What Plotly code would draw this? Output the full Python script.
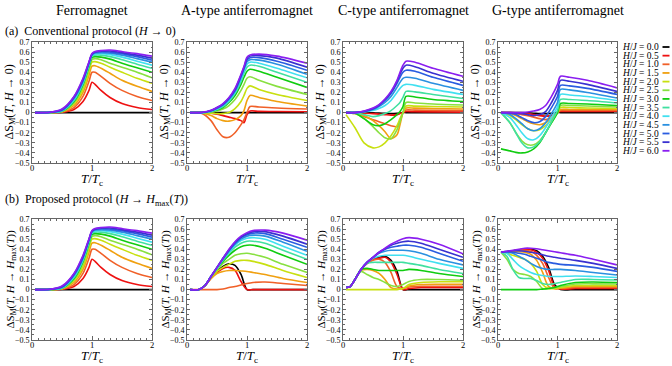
import plotly.graph_objects as go

W, H = 672, 366

# ---- data ----
h_values = [0.0, 0.5, 1.0, 1.5, 2.0, 2.5, 3.0, 3.5, 4.0, 4.5, 5.0, 5.5, 6.0]
line_colors = ['#000000', '#ee1111', '#f06028', '#f0a010', '#c8e010', '#88e040',
               '#10cc10', '#40e0a0', '#40e0f0', '#2a90e0', '#2a5ce0', '#3a30d0', '#8a1ef0']

col_titles = ['Ferromagnet', 'A-type antiferromagnet', 'C-type antiferromagnet', 'G-type antiferromagnet']
row_labels = ['(a)  Conventional protocol (<i>H</i> → 0)',
              '(b)  Proposed protocol (<i>H</i> → <i>H</i><sub>max</sub>(<i>T</i>))']
y_titles = ['ΔS<sub>M</sub>(<i>T</i>, <i>H</i> → 0)',
            'ΔS<sub>M</sub>(<i>T</i>, <i>H</i> → <i>H</i><sub>max</sub>(<i>T</i>))']
x_title = '<i>T</i>/<i>T</i><sub>c</sub>'

# ferromagnet (both protocols look the same)
t_fm = [0.05, 0.3, 0.5, 0.7, 0.85, 0.95, 1.0, 1.05, 1.15, 1.3, 1.5, 1.75, 2.0]
fm_conv = [
    [0, 0, 0, 0, 0, 0, 0, 0, 0, 0, 0, 0, 0],
    [0, 0, 0.003, 0.03, 0.11, 0.22, 0.30, 0.28, 0.22, 0.15, 0.09, 0.05, 0.03],
    [0, 0, 0.005, 0.05, 0.16, 0.31, 0.40, 0.40, 0.36, 0.29, 0.22, 0.16, 0.12],
    [0, 0, 0.008, 0.07, 0.20, 0.37, 0.46, 0.465, 0.44, 0.39, 0.32, 0.26, 0.21],
    [0, 0, 0.01, 0.09, 0.23, 0.41, 0.50, 0.505, 0.49, 0.45, 0.40, 0.34, 0.29],
    [0, 0.001, 0.012, 0.10, 0.26, 0.44, 0.525, 0.535, 0.525, 0.49, 0.45, 0.40, 0.345],
    [0, 0.001, 0.014, 0.11, 0.28, 0.46, 0.545, 0.555, 0.55, 0.53, 0.49, 0.445, 0.40],
    [0, 0.001, 0.016, 0.12, 0.29, 0.47, 0.56, 0.57, 0.57, 0.555, 0.525, 0.48, 0.44],
    [0, 0.002, 0.018, 0.13, 0.30, 0.48, 0.565, 0.58, 0.585, 0.575, 0.55, 0.51, 0.47],
    [0, 0.002, 0.02, 0.14, 0.31, 0.49, 0.57, 0.59, 0.595, 0.59, 0.57, 0.535, 0.50],
    [0, 0.002, 0.025, 0.15, 0.32, 0.495, 0.575, 0.595, 0.605, 0.60, 0.585, 0.555, 0.52],
    [0, 0.003, 0.03, 0.155, 0.33, 0.50, 0.58, 0.60, 0.61, 0.61, 0.595, 0.57, 0.54],
    [0, 0.003, 0.035, 0.16, 0.34, 0.505, 0.585, 0.605, 0.615, 0.62, 0.605, 0.585, 0.56],
]
fm_prop = fm_conv

t_a_conv = [0.05, 0.25, 0.4, 0.5, 0.6, 0.7, 0.8, 0.9, 0.95, 1.0, 1.05, 1.2, 1.5, 2.0]
a_conv = [
    [0, 0, 0, 0, 0, 0, 0, 0, 0, 0, 0, 0, 0, 0],
    [0, 0, -0.005, -0.015, -0.03, -0.045, -0.06, -0.08, -0.1, -0.02, 0.015, 0.012, 0.01, 0.008],
    [0, -0.01, -0.08, -0.17, -0.24, -0.245, -0.2, -0.12, -0.07, 0.0, 0.06, 0.055, 0.045, 0.035],
    [0, -0.003, -0.03, -0.06, -0.08, -0.085, -0.07, -0.03, 0.02, 0.12, 0.17, 0.15, 0.11, 0.065],
    [0, 0, -0.005, -0.01, -0.01, 0.0, 0.04, 0.11, 0.17, 0.24, 0.265, 0.23, 0.18, 0.12],
    [0, 0, 0.005, 0.015, 0.035, 0.07, 0.13, 0.22, 0.28, 0.34, 0.355, 0.32, 0.26, 0.18],
    [0, 0, 0.01, 0.025, 0.05, 0.1, 0.17, 0.28, 0.35, 0.41, 0.43, 0.41, 0.35, 0.25],
    [0, 0, 0.012, 0.03, 0.06, 0.11, 0.19, 0.31, 0.39, 0.45, 0.47, 0.46, 0.40, 0.30],
    [0, 0, 0.014, 0.035, 0.07, 0.12, 0.2, 0.33, 0.41, 0.48, 0.50, 0.49, 0.44, 0.345],
    [0, 0.001, 0.016, 0.04, 0.075, 0.13, 0.21, 0.35, 0.43, 0.505, 0.525, 0.52, 0.48, 0.38],
    [0, 0.001, 0.018, 0.045, 0.08, 0.14, 0.22, 0.36, 0.44, 0.52, 0.545, 0.545, 0.51, 0.42],
    [0, 0.001, 0.02, 0.05, 0.085, 0.145, 0.23, 0.37, 0.45, 0.535, 0.56, 0.565, 0.54, 0.45],
    [0, 0.002, 0.022, 0.05, 0.09, 0.15, 0.24, 0.38, 0.46, 0.55, 0.57, 0.58, 0.56, 0.49],
]

t_c_conv = [0.05, 0.2, 0.35, 0.5, 0.6, 0.7, 0.8, 0.9, 0.95, 1.0, 1.05, 1.2, 1.5, 2.0]
c_conv = [
    [0, 0, 0, -0.003, -0.005, -0.008, -0.01, -0.008, -0.005, 0, 0, 0, 0, 0],
    [0, 0, -0.005, -0.01, -0.015, -0.02, -0.025, -0.02, -0.01, 0.0, 0.01, 0.008, 0.007, 0.005],
    [0, -0.01, -0.04, -0.07, -0.09, -0.11, -0.13, -0.14, -0.08, 0.0, 0.025, 0.024, 0.022, 0.02],
    [0, -0.005, -0.03, -0.08, -0.13, -0.19, -0.26, -0.22, -0.12, 0.0, 0.045, 0.044, 0.04, 0.035],
    [-0.02, -0.15, -0.3, -0.35, -0.34, -0.3, -0.23, -0.13, -0.06, 0.0, 0.065, 0.064, 0.06, 0.055],
    [0, -0.01, -0.06, -0.14, -0.2, -0.25, -0.26, -0.17, -0.09, 0.0, 0.1, 0.095, 0.085, 0.075],
    [0, -0.005, -0.06, -0.12, -0.13, -0.11, -0.07, -0.02, 0.01, 0.06, 0.16, 0.155, 0.13, 0.11],
    [0, 0, -0.02, -0.04, -0.03, -0.01, 0.02, 0.07, 0.1, 0.15, 0.21, 0.205, 0.18, 0.14],
    [0, 0, 0.005, 0.02, 0.04, 0.07, 0.12, 0.2, 0.24, 0.27, 0.28, 0.27, 0.23, 0.18],
    [0, 0, 0.008, 0.03, 0.06, 0.1, 0.16, 0.25, 0.3, 0.34, 0.35, 0.34, 0.29, 0.22],
    [0, 0, 0.01, 0.035, 0.07, 0.12, 0.19, 0.29, 0.35, 0.40, 0.42, 0.41, 0.35, 0.27],
    [0, 0, 0.012, 0.04, 0.075, 0.13, 0.2, 0.31, 0.38, 0.44, 0.47, 0.455, 0.39, 0.31],
    [0, 0, 0.015, 0.045, 0.08, 0.135, 0.21, 0.32, 0.40, 0.47, 0.51, 0.50, 0.44, 0.36],
]

t_g_conv = [0.05, 0.2, 0.3, 0.4, 0.5, 0.6, 0.7, 0.8, 0.9, 1.0, 1.05, 1.2, 1.5, 2.0]
g_conv = [
    [0, 0, 0, 0, -0.003, -0.006, -0.01, -0.01, -0.008, 0, 0, 0, 0, 0],
    [0, 0, -0.002, -0.005, -0.01, -0.02, -0.03, -0.035, -0.03, 0.0, 0.01, 0.01, 0.01, 0.01],
    [0, -0.005, -0.01, -0.02, -0.03, -0.045, -0.06, -0.07, -0.05, 0.0, 0.02, 0.02, 0.02, 0.02],
    [0, -0.01, -0.03, -0.06, -0.09, -0.11, -0.12, -0.1, -0.06, 0.0, 0.03, 0.03, 0.03, 0.03],
    [0, -0.03, -0.07, -0.12, -0.16, -0.18, -0.17, -0.13, -0.07, 0.0, 0.05, 0.05, 0.045, 0.04],
    [0, -0.1, -0.2, -0.28, -0.32, -0.32, -0.28, -0.2, -0.1, 0.0, 0.07, 0.07, 0.065, 0.055],
    [-0.36, -0.38, -0.395, -0.40, -0.39, -0.36, -0.3, -0.2, -0.1, 0.0, 0.09, 0.09, 0.085, 0.07],
    [0, -0.1, -0.2, -0.3, -0.35, -0.34, -0.29, -0.2, -0.09, 0.02, 0.13, 0.13, 0.12, 0.095],
    [0, -0.05, -0.12, -0.2, -0.26, -0.27, -0.23, -0.15, -0.05, 0.06, 0.18, 0.175, 0.16, 0.12],
    [0, -0.02, -0.06, -0.11, -0.16, -0.18, -0.16, -0.1, -0.01, 0.1, 0.23, 0.225, 0.2, 0.145],
    [0, -0.005, -0.02, -0.05, -0.08, -0.1, -0.09, -0.04, 0.05, 0.16, 0.27, 0.265, 0.24, 0.18],
    [0, 0, -0.005, -0.01, -0.02, -0.03, -0.02, 0.01, 0.1, 0.22, 0.32, 0.31, 0.28, 0.21],
    [0, 0, 0, 0, 0.005, 0.015, 0.03, 0.07, 0.16, 0.28, 0.36, 0.35, 0.32, 0.245],
]

t_a_prop = [0.05, 0.2, 0.3, 0.4, 0.5, 0.6, 0.7, 0.8, 0.9, 1.0, 1.1, 1.3, 1.6, 2.0]
a_prop = [
    [0, 0, 0.04, 0.12, 0.18, 0.23, 0.255, 0.24, 0.15, 0.0, 0, 0, 0, 0],
    [0, 0, 0.04, 0.11, 0.17, 0.21, 0.22, 0.19, 0.08, 0.0, 0.0, 0.0, 0.0, 0.0],
    [0, 0, 0, 0, 0, 0.005, 0.02, 0.03, 0.045, 0.06, 0.07, 0.075, 0.06, 0.04],
    [0, 0, 0.04, 0.11, 0.16, 0.18, 0.19, 0.19, 0.185, 0.18, 0.17, 0.15, 0.11, 0.07],
    [0, 0, 0.04, 0.12, 0.18, 0.22, 0.25, 0.28, 0.29, 0.29, 0.28, 0.25, 0.19, 0.12],
    [0, 0, 0.04, 0.13, 0.2, 0.26, 0.3, 0.34, 0.355, 0.36, 0.35, 0.32, 0.25, 0.17],
    [0, 0, 0.04, 0.13, 0.21, 0.28, 0.34, 0.39, 0.425, 0.44, 0.44, 0.41, 0.34, 0.25],
    [0, 0, 0.04, 0.13, 0.21, 0.29, 0.36, 0.42, 0.46, 0.48, 0.48, 0.46, 0.39, 0.30],
    [0, 0, 0.04, 0.13, 0.21, 0.3, 0.37, 0.44, 0.485, 0.51, 0.515, 0.5, 0.43, 0.34],
    [0, 0, 0.04, 0.13, 0.22, 0.3, 0.38, 0.45, 0.5, 0.53, 0.54, 0.53, 0.47, 0.38],
    [0, 0, 0.04, 0.13, 0.22, 0.31, 0.39, 0.46, 0.515, 0.545, 0.56, 0.555, 0.5, 0.42],
    [0, 0, 0.04, 0.13, 0.22, 0.31, 0.395, 0.47, 0.52, 0.555, 0.575, 0.575, 0.53, 0.45],
    [0, 0, 0.04, 0.13, 0.22, 0.31, 0.4, 0.475, 0.53, 0.565, 0.585, 0.59, 0.56, 0.49],
]

t_c_prop = [0.05, 0.12, 0.2, 0.3, 0.4, 0.5, 0.6, 0.7, 0.8, 0.9, 1.0, 1.1, 1.3, 1.6, 2.0]
c_prop = [
    [0.02, 0.03, 0.1, 0.2, 0.26, 0.3, 0.32, 0.33, 0.29, 0.18, 0.0, 0, 0, 0, 0],
    [0.02, 0.03, 0.1, 0.2, 0.26, 0.3, 0.31, 0.32, 0.27, 0.15, 0.0, 0.01, 0.02, 0.02, 0.02],
    [0.02, 0.03, 0.1, 0.2, 0.26, 0.29, 0.30, 0.27, 0.17, 0.03, 0.01, 0.025, 0.033, 0.033, 0.033],
    [0.02, 0.03, 0.1, 0.19, 0.2, 0.19, 0.16, 0.1, 0.02, 0.005, 0.01, 0.035, 0.05, 0.053, 0.053],
    [0, 0, 0, 0, 0, 0, 0, 0, 0, 0, 0.01, 0.05, 0.07, 0.077, 0.077],
    [0.02, 0.03, 0.1, 0.18, 0.15, 0.12, 0.1, 0.07, 0.04, 0.03, 0.05, 0.08, 0.1, 0.1, 0.093],
    [0.02, 0.03, 0.1, 0.2, 0.21, 0.2, 0.19, 0.19, 0.19, 0.19, 0.19, 0.2, 0.19, 0.16, 0.13],
    [0.02, 0.03, 0.1, 0.2, 0.26, 0.27, 0.27, 0.27, 0.27, 0.27, 0.27, 0.26, 0.24, 0.2, 0.16],
    [0.02, 0.03, 0.1, 0.2, 0.27, 0.31, 0.33, 0.34, 0.34, 0.34, 0.34, 0.33, 0.3, 0.26, 0.21],
    [0.02, 0.03, 0.1, 0.2, 0.27, 0.32, 0.36, 0.38, 0.39, 0.39, 0.39, 0.385, 0.36, 0.3, 0.245],
    [0.02, 0.03, 0.1, 0.2, 0.27, 0.32, 0.365, 0.4, 0.42, 0.43, 0.44, 0.44, 0.42, 0.36, 0.28],
    [0.02, 0.03, 0.1, 0.2, 0.27, 0.32, 0.37, 0.405, 0.44, 0.46, 0.475, 0.48, 0.46, 0.4, 0.32],
    [0.02, 0.03, 0.1, 0.2, 0.27, 0.32, 0.37, 0.41, 0.45, 0.48, 0.505, 0.515, 0.5, 0.45, 0.355],
]

t_g_prop = [0.05, 0.15, 0.25, 0.35, 0.45, 0.55, 0.65, 0.75, 0.85, 0.95, 1.05, 1.3, 1.6, 2.0]
g_prop = [
    [0.37, 0.375, 0.385, 0.395, 0.40, 0.40, 0.385, 0.33, 0.22, 0.05, 0, 0, 0, 0],
    [0.37, 0.375, 0.385, 0.395, 0.40, 0.395, 0.37, 0.31, 0.19, 0.03, 0.005, 0.01, 0.01, 0.01],
    [0.37, 0.375, 0.385, 0.39, 0.39, 0.38, 0.34, 0.26, 0.12, 0.01, 0.01, 0.02, 0.02, 0.02],
    [0.37, 0.372, 0.375, 0.375, 0.37, 0.35, 0.29, 0.17, 0.03, 0.01, 0.015, 0.03, 0.03, 0.03],
    [0.37, 0.36, 0.34, 0.32, 0.30, 0.26, 0.18, 0.05, 0.01, 0.01, 0.02, 0.04, 0.04, 0.04],
    [0.37, 0.30, 0.2, 0.16, 0.15, 0.13, 0.08, 0.01, 0.01, 0.02, 0.03, 0.055, 0.057, 0.055],
    [0, 0, 0, 0, 0, 0, 0, 0.005, 0.01, 0.02, 0.04, 0.07, 0.075, 0.07],
    [0.37, 0.33, 0.2, 0.12, 0.11, 0.11, 0.09, 0.06, 0.05, 0.06, 0.07, 0.1, 0.1, 0.095],
    [0.37, 0.36, 0.3, 0.24, 0.2, 0.17, 0.15, 0.14, 0.13, 0.13, 0.13, 0.135, 0.13, 0.12],
    [0.37, 0.37, 0.36, 0.33, 0.30, 0.26, 0.23, 0.21, 0.20, 0.20, 0.20, 0.19, 0.17, 0.145],
    [0.37, 0.375, 0.37, 0.36, 0.35, 0.33, 0.31, 0.29, 0.27, 0.26, 0.25, 0.24, 0.22, 0.18],
    [0.37, 0.38, 0.385, 0.385, 0.38, 0.37, 0.36, 0.345, 0.33, 0.32, 0.31, 0.29, 0.26, 0.21],
    [0.37, 0.38, 0.39, 0.40, 0.41, 0.41, 0.405, 0.395, 0.385, 0.375, 0.365, 0.34, 0.30, 0.245],
]

panels = [(t_fm, fm_conv), (t_a_conv, a_conv), (t_c_conv, c_conv), (t_g_conv, g_conv),
          (t_fm, fm_prop), (t_a_prop, a_prop), (t_c_prop, c_prop), (t_g_prop, g_prop)]

# ---- layout geometry (pixels) ----
col_px = [(32, 152), (187, 307), (343, 463), (498, 617)]
row_px = [(42, 163), (219, 340)]
SERIF = 'Liberation Serif'
AX = '#666666'


def px(x, y):
    # pixel position -> paper coords
    return x / W, 1 - y / H


fig = go.Figure()
layout = dict(width=W, height=H, margin=dict(l=0, r=0, t=0, b=0),
              paper_bgcolor='white', plot_bgcolor='white', showlegend=False,
              font=dict(family=SERIF, color='black'))
annotations = []

for i, (tt, rows) in enumerate(panels):
    k = i + 1
    r, c = divmod(i, 4)
    xs = 'x' if k == 1 else f'x{k}'
    ys = 'y' if k == 1 else f'y{k}'
    for hv, col, vals in zip(h_values, line_colors, rows):
        fig.add_trace(go.Scatter(x=tt, y=vals, xaxis=xs, yaxis=ys, mode='lines',
                                 line=dict(color=col, width=1.6, shape='spline', smoothing=0.8),
                                 name=f'H/J = {hv:.1f}', hoverinfo='name+x+y'))
    x0, x1 = col_px[c]
    y0, y1 = row_px[r]
    layout['xaxis' if k == 1 else f'xaxis{k}'] = dict(
        domain=[x0 / W, x1 / W], anchor=ys, range=[0, 2],
        tickmode='linear', tick0=0, dtick=1, ticks='inside', ticklen=4, tickcolor=AX,
        minor=dict(dtick=0.1, tick0=0, ticks='inside', ticklen=2, tickcolor=AX),
        mirror='allticks', showline=True, linecolor=AX, linewidth=1,
        showgrid=False, zeroline=False, automargin=False, ticklabelstandoff=-3,
        tickfont=dict(size=8.5, family=SERIF))
    layout['yaxis' if k == 1 else f'yaxis{k}'] = dict(
        domain=[(H - y1) / H, (H - y0) / H], anchor=xs, range=[-0.5, 0.7],
        tickmode='linear', tick0=0, dtick=0.1, ticks='inside', ticklen=3, tickcolor=AX,
        minor=dict(dtick=0.05, tick0=0, ticks='inside', ticklen=1.5, tickcolor=AX),
        mirror='allticks', showline=True, linecolor=AX, linewidth=1,
        showgrid=False, zeroline=False, automargin=False,
        tickfont=dict(size=8, family=SERIF))
    # axis titles placed as annotations for tight control
    ax, ay = px((x0 + x1) / 2, y1 + 16)
    annotations.append(dict(text=x_title, x=ax, y=ay, xref='paper', yref='paper', showarrow=False,
                            xanchor='center', yanchor='middle', font=dict(size=13, family=SERIF)))
    ax, ay = px(x0 - 22, (y0 + y1) / 2)
    annotations.append(dict(text=y_titles[r], x=ax, y=ay, xref='paper', yref='paper', showarrow=False,
                            textangle=-90, xanchor='center', yanchor='middle',
                            font=dict(size=[12, 11][r], family=SERIF)))

for c, txt in enumerate(col_titles):
    x0, x1 = col_px[c]
    ax, ay = px((x0 + x1) / 2, 10)
    annotations.append(dict(text=txt, x=ax, y=ay, xref='paper', yref='paper',
                            showarrow=False, xanchor='center', yanchor='middle',
                            font=dict(size=14, family=SERIF)))
for r, txt in enumerate(row_labels):
    ax, ay = px(3, [31, 200][r])
    annotations.append(dict(text=txt, x=ax, y=ay, xref='paper', yref='paper',
                            showarrow=False, xanchor='left', yanchor='middle',
                            font=dict(size=12, family=SERIF)))

shapes = []
for j, (hv, col) in enumerate(zip(h_values, line_colors)):
    ax, ay = px(661, 47 + j * 8.65)
    annotations.append(dict(text=f'<i>H</i>/<i>J</i> = {hv:.1f}', x=ax, y=ay,
                            xref='paper', yref='paper', showarrow=False,
                            xanchor='right', yanchor='middle', font=dict(size=9.5, family=SERIF)))
    shapes.append(dict(type='line', xref='paper', yref='paper', x0=662.5 / W, x1=669.5 / W,
                       y0=ay, y1=ay, line=dict(color=col, width=1.8)))

layout['annotations'] = annotations
layout['shapes'] = shapes
fig.update_layout(**layout)
# the page body has a default 8px margin; drop it so the figure sits at the window origin
fig.write_html('out.html', config={'displayModeBar': False},
               post_script="document.body.style.margin='0';document.body.style.padding='0';")
